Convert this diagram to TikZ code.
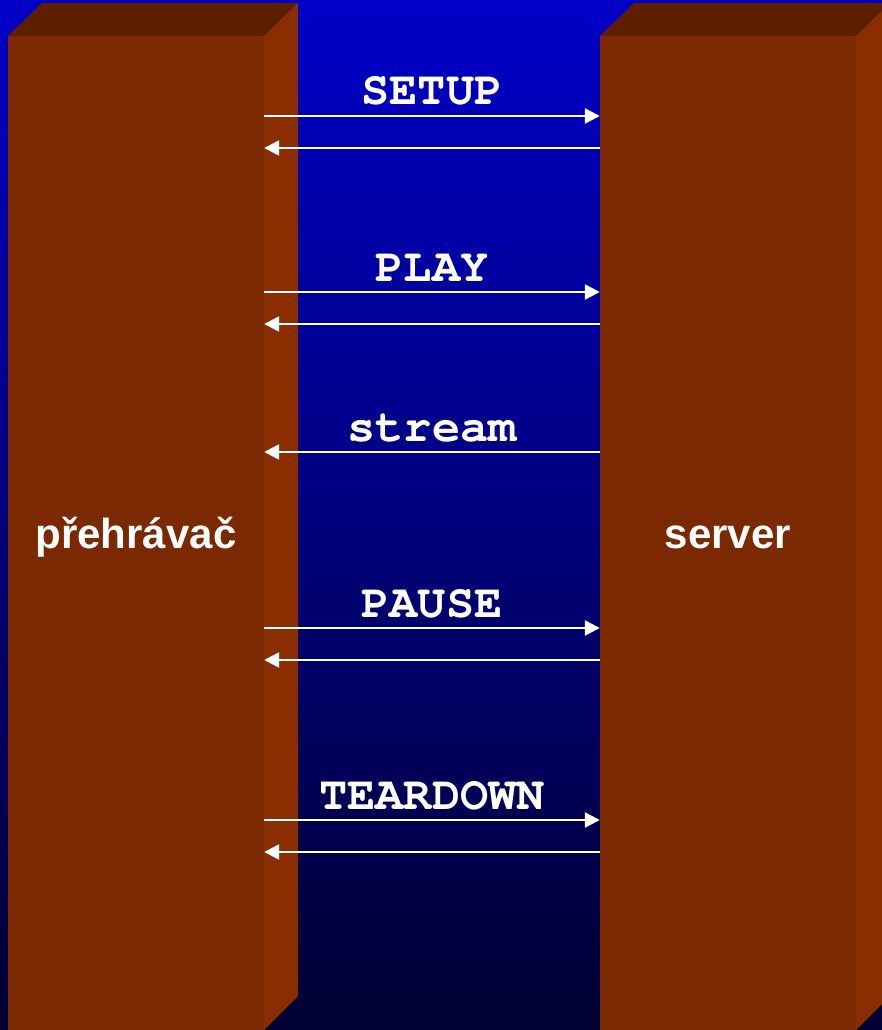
\documentclass[tikz,border=0pt]{standalone}
\usepackage[T1,TU]{fontenc}
\usepackage{fontspec}
\setsansfont{Liberation Sans}
\usetikzlibrary{arrows.meta}
\definecolor{bgtop}{RGB}{0,0,200}
\definecolor{bgbottom}{RGB}{0,0,50}
\definecolor{faceFront}{RGB}{122,41,0}
\definecolor{faceTop}{RGB}{94,31,0}
\definecolor{faceSide}{RGB}{138,46,0}
% bold Courier for the message names
\newcommand{\msgfont}{\fontencoding{T1}\fontfamily{pcr}\fontseries{b}\fontshape{n}\fontsize{47}{50}\selectfont}
\tikzset{
  front/.style={fill=faceFront, draw=none, minimum width=256pt, minimum height=1002pt,
    inner sep=0pt, text=white, font=\sffamily\bfseries\fontsize{42}{48}\selectfont},
  topface/.style={fill=faceTop, draw=none},
  sideface/.style={fill=faceSide, draw=none},
  msg/.style={draw=white, line width=2.5pt, -{Triangle[length=15pt,width=15pt]}},
  msglabel/.style={anchor=base, text=white, inner sep=0pt, font=\msgfont}
}
\begin{document}
\begin{tikzpicture}[x=1pt,y=-1pt]
  \clip (0,0) rectangle (882,1030);
  % background
  \shade[top color=bgtop, bottom color=bgbottom] (0,0) rectangle (882,1030);

  % player column
  \fill[topface] (8,36) -- (42,3) -- (298,3) -- (264,36) -- cycle;
  \fill[sideface] (264,36) -- (298,3) -- (298,996) -- (264,1030) -- cycle;
  \node[front] (player) at (136,537) {přehrávač};

  % server column
  \fill[topface] (600,36) -- (634,3) -- (890,3) -- (856,36) -- cycle;
  \fill[sideface] (856,36) -- (890,3) -- (890,996) -- (856,1030) -- cycle;
  \node[front] (server) at (728,537) {server};

  % messages
  \node[msglabel] (lsetup) at (432,105) {SETUP};
  \draw[msg] (player.east |- 0,116) -- (server.west |- 0,116);
  \draw[msg] (server.west |- 0,148) -- (player.east |- 0,148);

  \node[msglabel] (lplay) at (432,281) {PLAY};
  \draw[msg] (player.east |- 0,292) -- (server.west |- 0,292);
  \draw[msg] (server.west |- 0,324) -- (player.east |- 0,324);

  \node[msglabel] (lstream) at (432,441) {stream};
  \draw[msg] (server.west |- 0,452) -- (player.east |- 0,452);

  \node[msglabel] (lpause) at (432,617) {PAUSE};
  \draw[msg] (player.east |- 0,628) -- (server.west |- 0,628);
  \draw[msg] (server.west |- 0,660) -- (player.east |- 0,660);

  \node[msglabel] (lteardown) at (432,809) {TEARDOWN};
  \draw[msg] (player.east |- 0,820) -- (server.west |- 0,820);
  \draw[msg] (server.west |- 0,852) -- (player.east |- 0,852);
\end{tikzpicture}
\end{document}
